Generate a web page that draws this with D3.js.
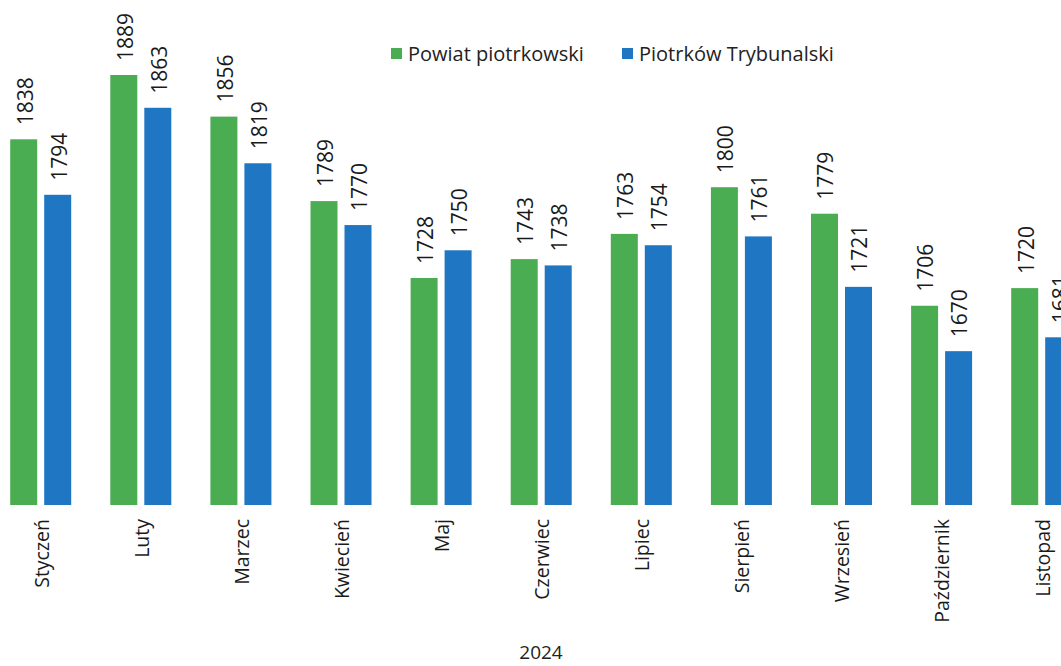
<!DOCTYPE html>
<html>
<head>
<meta charset="utf-8">
<script src="https://cdn.jsdelivr.net/npm/d3@7"></script>
<style>
  body { margin: 0; background: #fff; }
  svg { display: block; font-family: "Open Sans", sans-serif; }
</style>
</head>
<body>
<div id="chart"></div>
<script>
// the reference is cropped on the right: December is not visible
const months = ['Styczeń', 'Luty', 'Marzec', 'Kwiecień', 'Maj', 'Czerwiec', 'Lipiec',
  'Sierpień', 'Wrzesień', 'Październik', 'Listopad'];
const seriesNames = ['Powiat piotrkowski', 'Piotrków Trybunalski'];
const powiat = [1838, 1889, 1856, 1789, 1728, 1743, 1763, 1800, 1779, 1706, 1720];
const piotrkow = [1794, 1863, 1819, 1770, 1750, 1738, 1754, 1761, 1721, 1670, 1681];
const colors = ['#4aad52', '#1f77c4'];
const xTitle = '2024';

const width = 1061, height = 666;
const baseY = 505;

const svg = d3.select('#chart').append('svg')
  .attr('width', width)
  .attr('height', height);

// group scale: ~100px per month, first group centred near x=40.7
const step = 100.1;
const x0 = d3.scaleBand()
  .domain(months)
  .range([40.7 - step / 2, 40.7 - step / 2 + step * months.length])
  .padding(0);

const x1 = d3.scaleBand()
  .domain(seriesNames)
  .range([(step - 61) / 2, (step + 61) / 2])
  .paddingInner(7 / 34)
  .paddingOuter(0);

// axis floor sits below the data, bars start at the baseline
const y = d3.scaleLinear()
  .domain([1548, 1889])
  .range([baseY, 75]);

const rows = months.map((m, i) => ({ month: m, values: [powiat[i], piotrkow[i]] }));

const groups = svg.append('g').selectAll('g')
  .data(rows)
  .join('g')
  .attr('transform', d => `translate(${x0(d.month)},0)`);

groups.selectAll('rect')
  .data(d => d.values.map((v, i) => ({ key: seriesNames[i], v, i })))
  .join('rect')
  .attr('x', d => x1(d.key))
  .attr('width', x1.bandwidth())
  .attr('y', d => y(d.v))
  .attr('height', d => baseY - y(d.v))
  .attr('fill', d => colors[d.i]);

// value labels, rotated
groups.selectAll('text.val')
  .data(d => d.values.map((v, i) => ({ key: seriesNames[i], v, i })))
  .join('text')
  .attr('class', 'val')
  .attr('transform', d => `translate(${x1(d.key) + x1.bandwidth() / 2 + 1.5},${y(d.v) - 14}) rotate(-90)`)
  .attr('dy', '0.35em')
  .attr('font-size', 21)
  .attr('fill', '#1a1a1a')
  .text(d => d.v);

// category axis labels
const xAxis = d3.axisBottom(x0).tickSize(0).tickPadding(0);
const axisG = svg.append('g')
  .attr('transform', `translate(0,${baseY})`)
  .call(xAxis);
axisG.select('.domain').remove();
axisG.selectAll('text')
  .attr('font-family', '"Open Sans", sans-serif')
  .attr('font-size', 19.5)
  .attr('fill', '#1a1a1a')
  .attr('text-anchor', 'end')
  .attr('transform', 'translate(1,14) rotate(-90)')
  .attr('x', 0)
  .attr('y', 0)
  .attr('dy', '0.35em');

// axis title
svg.append('text')
  .attr('x', 541)
  .attr('y', 659)
  .attr('text-anchor', 'middle')
  .attr('font-size', 19)
  .attr('fill', '#222')
  .text(xTitle);

// legend
const legendX = [391, 622];
const legend = svg.append('g').selectAll('g')
  .data(seriesNames)
  .join('g')
  .attr('transform', (d, i) => `translate(${legendX[i]},48)`);
legend.append('rect')
  .attr('width', 11)
  .attr('height', 11)
  .attr('fill', (d, i) => colors[i]);
legend.append('text')
  .attr('x', 17)
  .attr('y', 6)
  .attr('dy', '0.35em')
  .attr('font-size', 20)
  .attr('fill', '#222')
  .text(d => d);
</script>
</body>
</html>
